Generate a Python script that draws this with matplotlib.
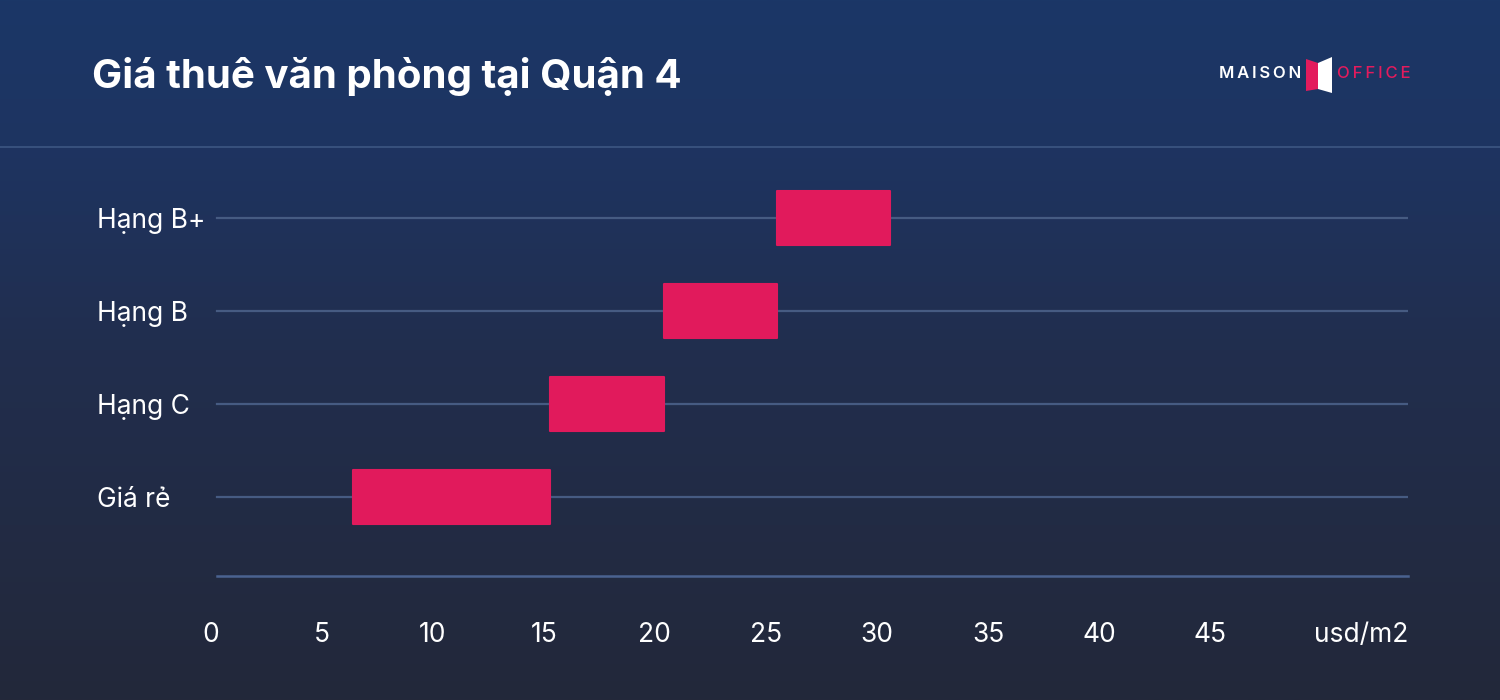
import numpy as np
import matplotlib
matplotlib.use('Agg')
from matplotlib import pyplot as plt
from matplotlib.colors import LinearSegmentedColormap
from matplotlib.patches import Polygon

# Data
categories = ['Giá rẻ', 'Hạng C', 'Hạng B', 'Hạng B+']
price_low = [6.4, 15.3, 20.4, 25.5]
price_high = [15.3, 20.4, 25.5, 30.6]
x_ticks = [0, 5, 10, 15, 20, 25, 30, 35, 40, 45]
unit_label = 'usd/m2'
title = 'Giá thuê văn phòng tại Quận 4'

plt.rcParams['font.family'] = ['Inter', 'DejaVu Sans']

W, H = 1500, 700
fig = plt.figure(figsize=(15, 7), dpi=100)

# background gradient
bg = fig.add_axes([0, 0, 1, 1], zorder=-10)
cmap = LinearSegmentedColormap.from_list(
    'bg', [(0, '#1b3767'), (0.21, '#1e3461'), (0.5, '#212e4e'), (1, '#23283a')])
grad = np.linspace(0, 1, 256).reshape(-1, 1)
bg.imshow(grad, aspect='auto', cmap=cmap, extent=[0, 1, 0, 1], origin='upper')
bg.set_xlim(0, 1)
bg.set_ylim(0, 1)
bg.axis('off')

# header separator line
bg.axhline(1 - 147 / H, color='#3d5682', lw=1.2)

# title
fig.text(92 / W, 1 - 77 / H, title, color='white', fontsize=29, fontweight='bold',
         va='center', ha='left')

# logo
ts = '\u2009'
fig.text(1301 / W, 1 - 74 / H, ts.join('MAISON'), color='white', fontsize=12,
         fontweight='semibold', va='center', ha='right')
fig.text(1337 / W, 1 - 74 / H, ts.join('OFFICE'), color='#e31b5d', fontsize=12,
         fontweight='medium', va='center', ha='left')
pink = [(1306, 59), (1318, 63), (1318, 89), (1306, 91)]
white = [(1318, 63), (1332, 57), (1332, 93), (1318, 89)]
for pts, c in [(pink, '#e31b5d'), (white, 'white')]:
    fig.patches.append(Polygon([(x / W, 1 - y / H) for x, y in pts], closed=True,
                               transform=fig.transFigure, facecolor=c, edgecolor='none'))

# main chart
x_left_px, x_right_px = 199.4, 1408
y_bot_px, y_top_px = 576, 160
ax = fig.add_axes([x_left_px / W, 1 - y_bot_px / H,
                   (x_right_px - x_left_px) / W, (y_bot_px - y_top_px) / H])
ax.set_facecolor('none')
ax.set_xlim(-0.5, 53.9)
ax.set_ylim(-0.85, 3.62)

ypos = np.arange(len(categories))
line_start = (217 - x_left_px) / (x_right_px - x_left_px)
for y in ypos:
    ax.axhline(y, xmin=line_start, xmax=1, color='#465b82', lw=1.6, zorder=1)
ax.axhline(-0.85, xmin=line_start, xmax=1, color='#4a6290', lw=1.8, zorder=1, clip_on=False)

widths = [h - l for l, h in zip(price_low, price_high)]
ax.barh(ypos, widths, left=price_low, height=0.58, color='#e11a5c',
        edgecolor='#e11a5c', linewidth=1.5, joinstyle='round', zorder=3)

for s in ax.spines.values():
    s.set_visible(False)
ax.set_xticks(x_ticks)
ax.set_xticklabels([str(t) for t in x_ticks])
ax.set_yticks(ypos)
ax.set_yticklabels(categories)
ax.tick_params(axis='both', length=0, colors='white')
ax.tick_params(axis='x', labelsize=19, pad=33)
ax.tick_params(axis='y', labelsize=19, pad=0)
for lbl in ax.get_yticklabels():
    lbl.set_horizontalalignment('left')
    lbl.set_x(-(x_left_px - 97) / (x_right_px - x_left_px))
ax.annotate(unit_label, xy=(1.0, 0), xycoords='axes fraction', xytext=(0, -33),
            textcoords='offset points', color='white', fontsize=19, ha='right', va='top')

fig.savefig('out.png', dpi=100)
